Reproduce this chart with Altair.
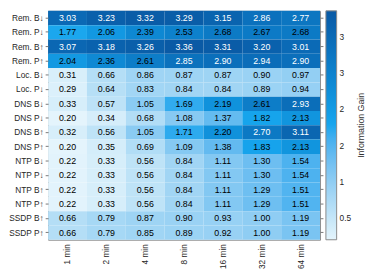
import altair as alt
import pandas as pd

cols = ["1 min", "2 min", "4 min", "8 min", "16 min", "32 min", "64 min"]
rows = ["Rem. B↓", "Rem. P↓", "Rem. B↑", "Rem. P↑", "Loc. B↓", "Loc. P↓",
        "DNS B↓", "DNS P↓", "DNS B↑", "DNS P↑", "NTP B↓", "NTP P↓",
        "NTP B↑", "NTP P↑", "SSDP B↑", "SSDP P↑"]

rem_b_down = [3.03, 3.23, 3.32, 3.29, 3.15, 2.86, 2.77]
rem_p_down = [1.77, 2.06, 2.39, 2.53, 2.68, 2.67, 2.68]
rem_b_up = [3.07, 3.18, 3.26, 3.36, 3.31, 3.20, 3.01]
rem_p_up = [2.04, 2.36, 2.61, 2.85, 2.90, 2.94, 2.90]
loc_b_down = [0.31, 0.66, 0.86, 0.87, 0.87, 0.90, 0.97]
loc_p_down = [0.29, 0.64, 0.83, 0.84, 0.84, 0.89, 0.94]
dns_b_down = [0.33, 0.57, 1.05, 1.69, 2.19, 2.61, 2.93]
dns_p_down = [0.20, 0.34, 0.68, 1.08, 1.37, 1.82, 2.13]
dns_b_up = [0.32, 0.56, 1.05, 1.71, 2.20, 2.70, 3.11]
dns_p_up = [0.20, 0.35, 0.69, 1.09, 1.38, 1.83, 2.13]
ntp_b_down = [0.22, 0.33, 0.56, 0.84, 1.11, 1.30, 1.54]
ntp_p_down = [0.22, 0.33, 0.56, 0.84, 1.11, 1.30, 1.54]
ntp_b_up = [0.22, 0.33, 0.56, 0.84, 1.11, 1.29, 1.51]
ntp_p_up = [0.22, 0.33, 0.56, 0.84, 1.11, 1.29, 1.51]
ssdp_b_up = [0.66, 0.79, 0.87, 0.90, 0.93, 1.00, 1.19]
ssdp_p_up = [0.66, 0.79, 0.85, 0.89, 0.92, 1.00, 1.19]

series = [rem_b_down, rem_p_down, rem_b_up, rem_p_up, loc_b_down, loc_p_down,
          dns_b_down, dns_p_down, dns_b_up, dns_p_up, ntp_b_down, ntp_p_down,
          ntp_b_up, ntp_p_up, ssdp_b_up, ssdp_p_up]

records = []
for r, vals in zip(rows, series):
    for c, v in zip(cols, vals):
        records.append({"row": r, "col": c, "value": v})
df = pd.DataFrame(records)

FONT = "Liberation Sans, DejaVu Sans"
PH = 234
PW = 278

x = alt.X("col:N", sort=cols, title=None,
          axis=alt.Axis(labelAngle=270, ticks=False, labelPadding=4, domain=False,
                        labelFontSize=8.5, labelFont=FONT, labelColor="#262626"))
y_left = alt.Y("row:N", sort=rows, title=None,
               axis=alt.Axis(orient="left", tickSize=3, tickColor="#777", domain=False,
                             labelPadding=2, labelFontSize=8.5, labelFont=FONT,
                             labelColor="#262626"))
y_right = alt.Y("row:N", sort=rows, title=None,
                axis=alt.Axis(orient="right", tickSize=3, tickColor="#777", domain=False,
                              labels=False))

color = alt.Color(
    "value:Q",
    scale=alt.Scale(domain=[0.2, 1.78, 3.36],
                    range=["#e4f4fc", "#17a6ee", "#0a5aa5"]),
    legend=alt.Legend(
        title=None, orient="none", legendX=284, legendY=0,
        gradientLength=PH, gradientThickness=11, gradientStrokeColor="#888",
        gradientStrokeWidth=1, values=[0.5, 1, 1.5, 2, 2.5, 3], format="~g",
        labelFontSize=8.5, labelFont=FONT, labelColor="#262626", labelOffset=3),
)

rect = alt.Chart(df).mark_rect().encode(x=x, y=y_left, color=color)
text = alt.Chart(df).mark_text(fontSize=9, font=FONT).encode(
    x=x, y=y_right,
    text=alt.Text("value:Q", format=".2f"),
    color=alt.condition(alt.datum.value >= 2.695, alt.value("white"), alt.value("black")),
)

chart = (
    alt.layer(rect, text)
    .resolve_axis(y="independent")
    .properties(
        width=PW, height=PH, autosize=alt.AutoSizeParams(type="none"),
        padding={"left": 41, "top": 0, "right": 47, "bottom": 29},
        title=alt.TitleParams(text="Information Gain", orient="right", angle=270,
                              anchor="middle", baseline="top", offset=-3,
                              fontSize=9, font=FONT, fontWeight="normal",
                              color="#333"),
    )
    .configure_view(stroke="#8c8c8c", strokeWidth=1)
)

chart.save("out.html", embed_options={"renderer": "svg", "actions": False})
